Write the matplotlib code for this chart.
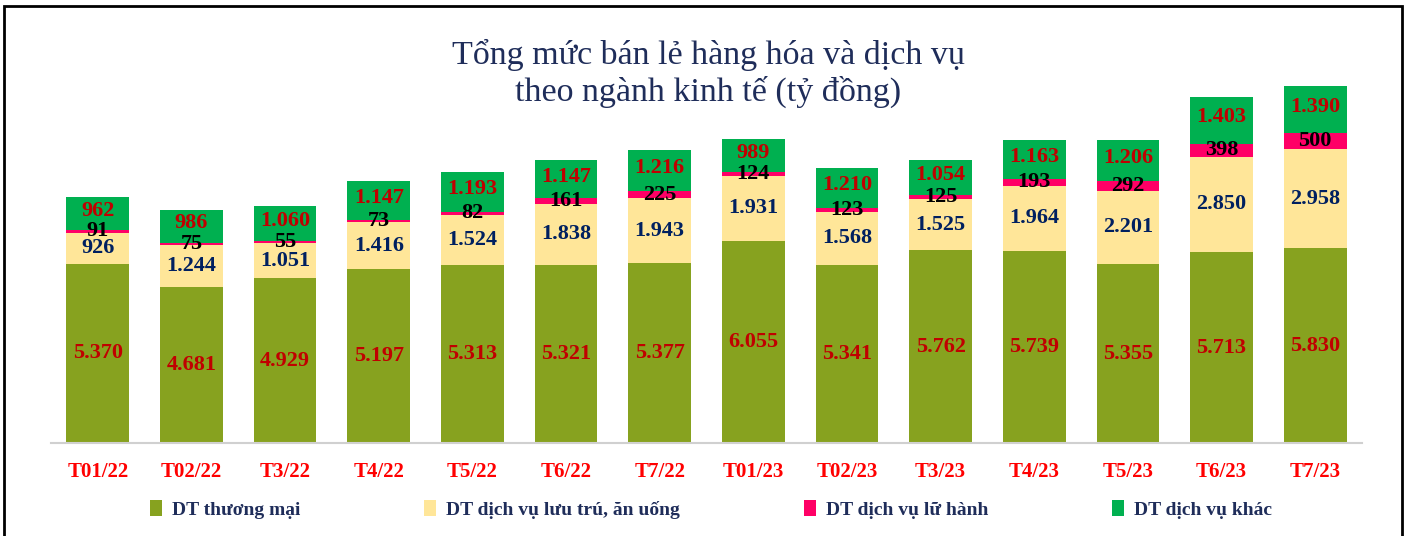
import numpy as np
import matplotlib.pyplot as plt
from matplotlib.patches import Rectangle

# ---- data (tỷ đồng) ----
months = ['T01/22', 'T02/22', 'T3/22', 'T4/22', 'T5/22', 'T6/22', 'T7/22',
          'T01/23', 'T02/23', 'T3/23', 'T4/23', 'T5/23', 'T6/23', 'T7/23']
thuong_mai = [5370, 4681, 4929, 5197, 5313, 5321, 5377,
              6055, 5341, 5762, 5739, 5355, 5713, 5830]
luu_tru = [926, 1244, 1051, 1416, 1524, 1838, 1943,
           1931, 1568, 1525, 1964, 2201, 2850, 2958]
lu_hanh = [91, 75, 55, 73, 82, 161, 225,
           124, 123, 125, 193, 292, 398, 500]
khac = [962, 986, 1060, 1147, 1193, 1147, 1216,
        989, 1210, 1054, 1163, 1206, 1403, 1390]

series_names = ['DT thương mại', 'DT dịch vụ lưu trú, ăn uống',
                'DT dịch vụ lữ hành', 'DT dịch vụ khác']
series_colors = ['#87A21F', '#FFE699', '#FF0066', '#00B050']
label_colors = ['#C00000', '#002060', '#000000', '#C00000']
# small nudge (data units) so the top labels sit a bit high, as in the source
label_nudge = [0, 0, 0, 80]

NAVY = '#1F2D5A'
plt.rcParams['font.family'] = ['Liberation Serif', 'DejaVu Serif']


def fmt(v):
    # Vietnamese thousands separator
    return f'{v:,}'.replace(',', '.')


fig = plt.figure(figsize=(14.08, 5.36), dpi=100)
ax = fig.add_axes([51 / 1408, 93 / 536, 1311 / 1408, 401 / 536])

x = np.arange(len(months))
bottom = np.zeros(len(months))
for vals, color, lcol, nudge, name in zip([thuong_mai, luu_tru, lu_hanh, khac],
                                          series_colors, label_colors,
                                          label_nudge, series_names):
    vals = np.array(vals)
    ax.bar(x, vals, width=0.67, bottom=bottom, color=color, label=name,
           edgecolor='none')
    for xi, b, v in zip(x, bottom, vals):
        ax.text(xi, b + v / 2 + nudge, fmt(v), ha='center', va='center',
                fontsize=16, fontweight='bold', color=lcol)
    bottom += vals

ax.set_xlim(-0.5, len(months) - 0.5)
ax.set_ylim(0, 12000)
ax.set_yticks([])
ax.set_xticks(x)
ax.set_xticklabels(months, fontsize=15, fontweight='bold', color='#FF0000')
ax.tick_params(axis='x', length=0, pad=14)
for s in ['top', 'right', 'left']:
    ax.spines[s].set_visible(False)
ax.spines['bottom'].set_color('#D0D0D0')
ax.spines['bottom'].set_linewidth(1.5)

fig.text(0.503, 0.863, 'Tổng mức bán lẻ hàng hóa và dịch vụ\ntheo ngành kinh tế (tỷ đồng)',
         ha='center', va='center', fontsize=24.5, color=NAVY, linespacing=1.2)

leg = fig.legend(loc='center', bbox_to_anchor=(0.505, 0.05), ncol=4,
                 frameon=False, handlelength=0.6, handleheight=0.9,
                 handletextpad=0.5, columnspacing=6.4,
                 prop={'size': 14, 'weight': 'bold'})
for t in leg.get_texts():
    t.set_color(NAVY)

# outer frame
fig.patches.append(Rectangle((4 / 1408, -0.01), 1398 / 1408, 1 - 6 / 536 + 0.01,
                             transform=fig.transFigure, fill=False,
                             edgecolor='black', linewidth=2))

fig.savefig('out.png', dpi=100)
